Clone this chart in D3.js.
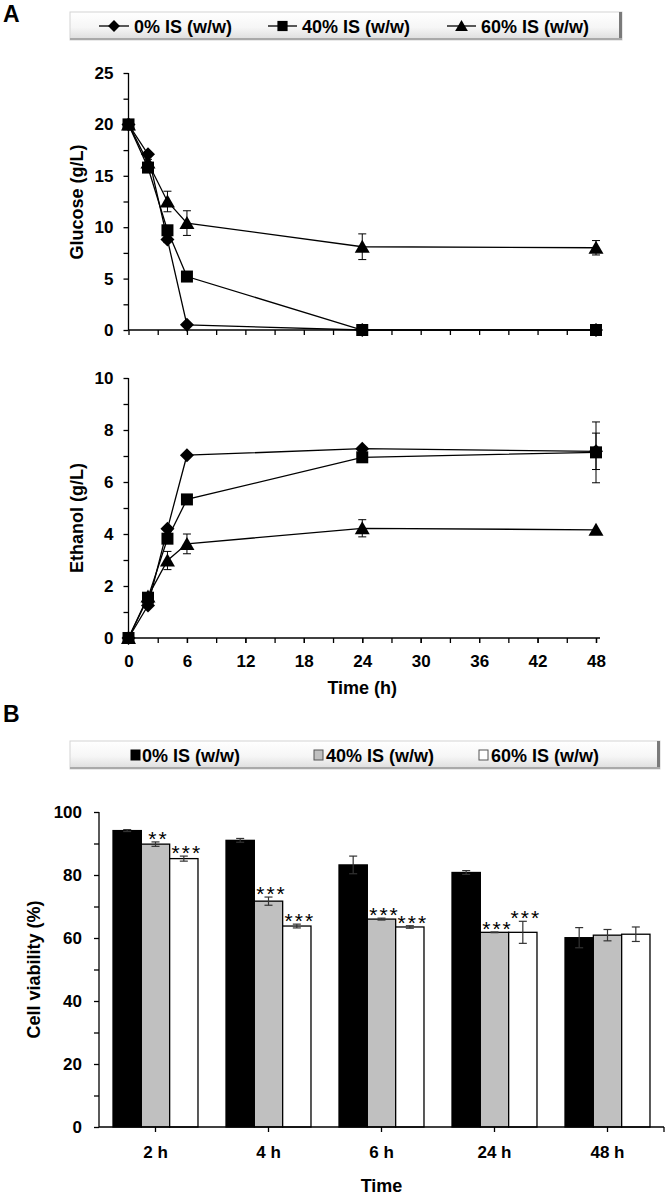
<!DOCTYPE html>
<html>
<head>
<meta charset="utf-8">
<script src="https://cdn.jsdelivr.net/npm/d3@7"></script>
<style>
  html, body { margin: 0; padding: 0; background: #fff; }
  svg { display: block; }
  text { font-family: "Liberation Sans", Arial, sans-serif; fill: #000; }
</style>
</head>
<body>
<svg id="chart" width="666" height="1195"></svg>
<script>
// ---------------- DATA ----------------
const seriesNames = ["0% IS (w/w)", "40% IS (w/w)", "60% IS (w/w)"];
const timeHours = [0, 2, 4, 6, 24, 48];

const glucose0 = [20, 17.1, 8.8, 0.5, 0, 0];
const glucose40 = [20, 15.8, 9.7, 5.2, 0, 0];
const glucose60 = [20, 16.3, 12.5, 10.4, 8.1, 8.0];
const glucoseErr0 = [0, 0.2, 0.3, 0.1, 0, 0];
const glucoseErr40 = [0, 0.3, 0.4, 0.2, 0, 0];
const glucoseErr60 = [0, 0.3, 1.0, 1.2, 1.25, 0.7];

const ethanol0 = [0, 1.25, 4.2, 7.03, 7.28, 7.18];
const ethanol40 = [0, 1.55, 3.82, 5.33, 6.95, 7.14];
const ethanol60 = [0, 1.6, 2.98, 3.62, 4.22, 4.16];
const ethanolErr0 = [0, 0.1, 0.1, 0.05, 0.05, 0.7];
const ethanolErr40 = [0, 0.1, 0.15, 0.05, 0.05, 1.17];
const ethanolErr60 = [0, 0.1, 0.35, 0.38, 0.33, 0.05];

const glucoseTicks = [0, 5, 10, 15, 20, 25];
const ethanolTicks = [0, 2, 4, 6, 8, 10];
const timeTicks = [0, 6, 12, 18, 24, 30, 36, 42, 48];

const categories = ["2 h", "4 h", "6 h", "24 h", "48 h"];
const viability0 = [94.1, 91.0, 83.2, 80.8, 60.1];
const viability40 = [89.8, 71.7, 66.0, 61.8, 60.9];
const viability60 = [85.2, 63.8, 63.5, 61.8, 61.2];
const viabilityErr0 = [0.3, 0.6, 2.8, 0.6, 3.2];
const viabilityErr40 = [0.7, 1.3, 0.3, 0.1, 1.8];
const viabilityErr60 = [0.8, 0.6, 0.4, 3.5, 2.3];
const stars40 = ["**", "***", "***", "***", ""];
const stars60 = ["***", "***", "***", "***", ""];
const viabilityTicks = [0, 20, 40, 60, 80, 100];

// ---------------- SETUP ----------------
const svg = d3.select("#chart");
svg.append("rect").attr("width", 666).attr("height", 1195).attr("fill", "#fff");
const FONT = "bold";
const defs = svg.append("defs");
const grad = defs.append("linearGradient").attr("id", "legGrad")
  .attr("x1", 0).attr("y1", 0).attr("x2", 0).attr("y2", 1);
grad.append("stop").attr("offset", "0%").attr("stop-color", "#ffffff");
grad.append("stop").attr("offset", "55%").attr("stop-color", "#f6f6f6");
grad.append("stop").attr("offset", "100%").attr("stop-color", "#dcdcdc");

function markerPath(type) {
  if (type === "diamond") return "M0,-7L7,0L0,7L-7,0Z";
  if (type === "square") return "M-6,-6H6V6H-6Z";
  return "M0,-7L7.5,6L-7.5,6Z";
}
const markerTypes = ["diamond", "square", "triangle"];

function legendBox(x0, x1, y0, y1) {
  const g = svg.append("g");
  g.append("rect").attr("x", x0).attr("y", y0).attr("width", x1 - x0).attr("height", y1 - y0)
    .attr("fill", "url(#legGrad)").attr("stroke", "#d4d4d4").attr("stroke-width", 1);
  g.append("rect").attr("x", x1 - 3).attr("y", y0).attr("width", 3).attr("height", y1 - y0)
    .attr("fill", "#7a7a7a");
  g.append("rect").attr("x", x0).attr("y", y1 - 2).attr("width", x1 - x0).attr("height", 2)
    .attr("fill", "#a9a9a9");
  return g;
}

// ---------------- PANEL A ----------------
svg.append("text").attr("x", 3).attr("y", 22).attr("font-size", 23).attr("font-weight", FONT).text("A");

const legA = legendBox(70, 622, 12, 40);
const legAItems = [{lx: 99, tx: 134}, {lx: 268, tx: 302}, {lx: 447, tx: 481}];
legAItems.forEach((it, i) => {
  const cy = 26;
  legA.append("line").attr("x1", it.lx).attr("x2", it.tx - 5).attr("y1", cy).attr("y2", cy)
    .attr("stroke", "#000").attr("stroke-width", 1.3);
  legA.append("path").attr("d", markerPath(markerTypes[i]))
    .attr("transform", `translate(${(it.lx + it.tx - 5) / 2},${cy}) scale(0.85)`).attr("fill", "#000");
  legA.append("text").attr("x", it.tx).attr("y", cy + 6.5).attr("font-size", 18)
    .attr("font-weight", FONT).text(seriesNames[i]);
});

const xT = d3.scaleLinear().domain([0, 48]).range([128.5, 596]);
const yG = d3.scaleLinear().domain([0, 25]).range([330, 73]);
const yE = d3.scaleLinear().domain([0, 10]).range([638, 378]);

function styleAxis(g) {
  g.selectAll("path.domain").remove();
  g.selectAll("line").attr("stroke", "#000").attr("stroke-width", 1.3);
  g.selectAll("text").attr("font-size", 17).attr("font-weight", FONT)
    .attr("font-family", "'Liberation Sans', Arial, sans-serif").attr("fill", "#000");
}

function linePanel(yScale, yTicks, yMinor, data, errs, xLabels, title, titleY) {
  const x0 = xT(0), y0 = yScale(0);
  const ya = svg.append("g").attr("transform", `translate(${x0},0)`)
    .call(d3.axisLeft(yScale).tickValues(yTicks).tickSize(5).tickPadding(10).tickFormat(d3.format("d")));
  styleAxis(ya);
  const ym = svg.append("g").attr("transform", `translate(${x0},0)`)
    .call(d3.axisLeft(yScale).tickValues(yMinor).tickSize(5).tickFormat(""));
  styleAxis(ym);
  svg.append("line").attr("x1", x0).attr("x2", x0).attr("y1", yScale.range()[1]).attr("y2", y0)
    .attr("stroke", "#000").attr("stroke-width", 1.3);
  const minorT = d3.range(0, 49, 3);
  const xa = svg.append("g").attr("transform", `translate(0,${y0})`)
    .call(d3.axisBottom(xT).tickValues(xLabels ? timeTicks : []).tickSize(5).tickPadding(12).tickFormat(d3.format("d")));
  styleAxis(xa);
  const xm = svg.append("g").attr("transform", `translate(0,${y0})`)
    .call(d3.axisBottom(xT).tickValues(minorT).tickSize(5).tickFormat(""));
  styleAxis(xm);
  svg.append("line").attr("x1", x0).attr("x2", 600).attr("y1", y0).attr("y2", y0)
    .attr("stroke", "#000").attr("stroke-width", 1.3);
  svg.append("text").attr("transform", `translate(77,${titleY}) rotate(-90)`)
    .attr("text-anchor", "middle").attr("dy", "0.36em").attr("font-size", 18).attr("font-weight", FONT)
    .text(title);
  const line = d3.line().x((d, i) => xT(timeHours[i])).y(d => yScale(d));
  data.forEach((vals, s) => {
    svg.append("path").datum(vals).attr("d", line).attr("fill", "none")
      .attr("stroke", "#000").attr("stroke-width", 1.3);
  });
  data.forEach((vals, s) => {
    const g = svg.append("g");
    vals.forEach((v, i) => {
      const e = errs[s][i];
      const cx = xT(timeHours[i]);
      if (e > 0.15) {
        const yt = yScale(v + e), yb = yScale(v - e);
        g.append("line").attr("x1", cx).attr("x2", cx).attr("y1", yt).attr("y2", yb)
          .attr("stroke", "#000").attr("stroke-width", 1);
        [yt, yb].forEach(yy => g.append("line").attr("x1", cx - 4).attr("x2", cx + 4)
          .attr("y1", yy).attr("y2", yy).attr("stroke", "#000").attr("stroke-width", 1));
      }
    });
    vals.forEach((v, i) => {
      g.append("path").attr("d", markerPath(markerTypes[s]))
        .attr("transform", `translate(${xT(timeHours[i])},${yScale(v)})`).attr("fill", "#000");
    });
  });
}

linePanel(yG, glucoseTicks, [2.5, 7.5, 12.5, 17.5, 22.5],
  [glucose0, glucose40, glucose60], [glucoseErr0, glucoseErr40, glucoseErr60], false, "Glucose (g/L)", 202);
linePanel(yE, ethanolTicks, [1, 3, 5, 7, 9],
  [ethanol0, ethanol40, ethanol60], [ethanolErr0, ethanolErr40, ethanolErr60], true, "Ethanol (g/L)", 518);

svg.append("text").attr("x", (xT(0) + xT(48)) / 2).attr("y", 694).attr("text-anchor", "middle")
  .attr("font-size", 18).attr("font-weight", FONT).text("Time (h)");

// ---------------- PANEL B ----------------
svg.append("text").attr("x", 3).attr("y", 722).attr("font-size", 23).attr("font-weight", FONT).text("B");

const legB = legendBox(70, 660, 741, 769);
const barFills = ["#000000", "#c0c0c0", "#ffffff"];
const legBItems = [{sx: 131, tx: 142}, {sx: 314, tx: 326}, {sx: 479, tx: 491}];
legBItems.forEach((it, i) => {
  const cy = 755;
  legB.append("rect").attr("x", it.sx).attr("y", cy - 5).attr("width", 9).attr("height", 10)
    .attr("fill", barFills[i]).attr("stroke", i === 0 ? "#000" : "#555").attr("stroke-width", 1);
  legB.append("text").attr("x", it.tx).attr("y", cy + 6.5).attr("font-size", 18)
    .attr("font-weight", FONT).text(seriesNames[i]);
});

const xB = d3.scaleBand().domain(categories).range([99, 664]).paddingInner(0.248).paddingOuter(0.124);
const xSub = d3.scaleBand().domain([0, 1, 2]).range([0, xB.bandwidth()]);
const yB = d3.scaleLinear().domain([0, 100]).range([1127, 812]);

const yBa = svg.append("g").attr("transform", "translate(99,0)")
  .call(d3.axisLeft(yB).tickValues(viabilityTicks).tickSize(5).tickPadding(12));
styleAxis(yBa);
const yBm = svg.append("g").attr("transform", "translate(99,0)")
  .call(d3.axisLeft(yB).tickValues([10, 30, 50, 70, 90]).tickSize(5).tickFormat(""));
styleAxis(yBm);
svg.append("line").attr("x1", 99).attr("x2", 99).attr("y1", yB(100)).attr("y2", yB(0))
  .attr("stroke", "#000").attr("stroke-width", 1.3);

svg.append("text").attr("transform", `translate(34,${(yB(0) + yB(100)) / 2}) rotate(-90)`)
  .attr("text-anchor", "middle").attr("dy", "0.36em").attr("font-size", 18).attr("font-weight", FONT)
  .text("Cell viability (%)");

const barSeries = [viability0, viability40, viability60];
const barErrs = [viabilityErr0, viabilityErr40, viabilityErr60];
const barStars = [null, stars40, stars60];

categories.forEach((c, ci) => {
  barSeries.forEach((vals, s) => {
    const x = xB(c) + xSub(s), w = xSub.bandwidth();
    svg.append("rect").attr("x", x).attr("y", yB(vals[ci])).attr("width", w)
      .attr("height", yB(0) - yB(vals[ci])).attr("fill", barFills[s])
      .attr("stroke", "#000").attr("stroke-width", 1.3);
  });
});
categories.forEach((c, ci) => {
  barSeries.forEach((vals, s) => {
    const cx = xB(c) + xSub(s) + xSub.bandwidth() / 2;
    const v = vals[ci], e = barErrs[s][ci];
    const yt = yB(v + e), yb = yB(v - e);
    svg.append("line").attr("x1", cx).attr("x2", cx).attr("y1", yt).attr("y2", yb)
      .attr("stroke", "#333").attr("stroke-width", 1.2);
    [yt, yb].forEach(yy => svg.append("line").attr("x1", cx - 4).attr("x2", cx + 4)
      .attr("y1", yy).attr("y2", yy).attr("stroke", "#333").attr("stroke-width", 1.2));
    if (barStars[s] && barStars[s][ci]) {
      svg.append("text").attr("x", cx + 3).attr("y", yt + 4).attr("text-anchor", "middle")
        .attr("font-size", 21).attr("letter-spacing", 2).attr("fill", "#333")
        .text(barStars[s][ci]);
    }
  });
});

svg.append("line").attr("x1", 99).attr("x2", 664).attr("y1", yB(0)).attr("y2", yB(0))
  .attr("stroke", "#000").attr("stroke-width", 1.3);
const xBa = svg.append("g").attr("transform", `translate(0,${yB(0)})`)
  .call(d3.axisBottom(xB).tickSize(5).tickPadding(14));
styleAxis(xBa);
svg.append("line").attr("x1", 664).attr("x2", 664).attr("y1", yB(0)).attr("y2", yB(0) + 5)
  .attr("stroke", "#000").attr("stroke-width", 1.3);

svg.append("text").attr("x", (99 + 664) / 2).attr("y", 1192).attr("text-anchor", "middle")
  .attr("font-size", 18).attr("font-weight", FONT).text("Time");
</script>
</body>
</html>
